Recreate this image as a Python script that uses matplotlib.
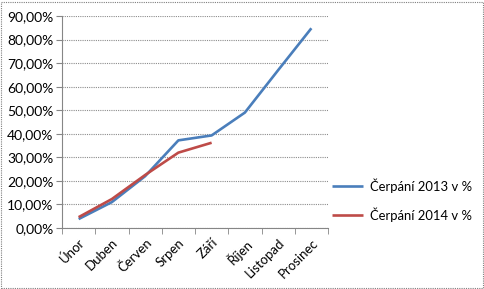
import matplotlib.pyplot as plt
from matplotlib.patches import Rectangle
from matplotlib.ticker import FuncFormatter

months = ["Únor", "Duben", "Červen", "Srpen", "Září", "Říjen", "Listopad", "Prosinec"]
cerpani_2013 = [3.8, 11.0, 22.0, 37.2, 39.3, 49.0, 67.0, 84.8]
cerpani_2014 = [4.6, 12.3, 22.5, 32.0, 36.2]
labels = ["Čerpání 2013 v %", "Čerpání 2014 v %"]

plt.rcParams["font.family"] = ["Lato", "DejaVu Sans"]

fig = plt.figure(figsize=(4.85, 2.89), dpi=100)
ax = fig.add_axes([62 / 485, 1 - 228 / 289, 266 / 485, 212 / 289])

x = list(range(len(months)))
ax.plot(x, cerpani_2013, color="#4A7EBB", lw=1.9, label=labels[0], solid_capstyle="butt")
ax.plot(x[:len(cerpani_2014)], cerpani_2014, color="#BE4B48", lw=1.9, label=labels[1],
        solid_capstyle="butt")

ax.set_xlim(-0.5, len(months) - 0.5)
ax.set_ylim(0, 90)
ax.set_yticks(range(0, 91, 10))
ax.yaxis.set_major_formatter(FuncFormatter(lambda v, p: f"{v:.2f}".replace(".", ",") + "%"))
ax.set_xticks(x)
ax.set_xticklabels(months, rotation=45, ha="right", rotation_mode="anchor", fontsize=9.5)
ax.set_xticks([i - 0.5 for i in range(len(months) + 1)], minor=True)
ax.tick_params(axis="x", which="major", length=0, pad=6)
ax.tick_params(axis="x", which="minor", length=4, color="#868686")
ax.tick_params(axis="y", length=4, color="#868686", labelsize=10, pad=2)

ax.grid(axis="y", color="#8c8c8c", linestyle=(0, (1, 1)), lw=0.8)
ax.set_axisbelow(True)
for s in ["top", "right"]:
    ax.spines[s].set_visible(False)
for s in ["left", "bottom"]:
    ax.spines[s].set_color("#868686")

ax.legend(loc="center left", bbox_to_anchor=(320 / 485, 1 - 200 / 289),
          bbox_transform=fig.transFigure, frameon=False, fontsize=9.4,
          handlelength=2.4, labelspacing=1.1, handletextpad=0.5)

fig.patches.append(Rectangle((0.003, 0.004), 0.992, 0.99, transform=fig.transFigure,
                             fill=False, edgecolor="#7f7f7f", lw=0.8,
                             linestyle=(0, (1, 1))))

fig.savefig("out.png", dpi=100)
